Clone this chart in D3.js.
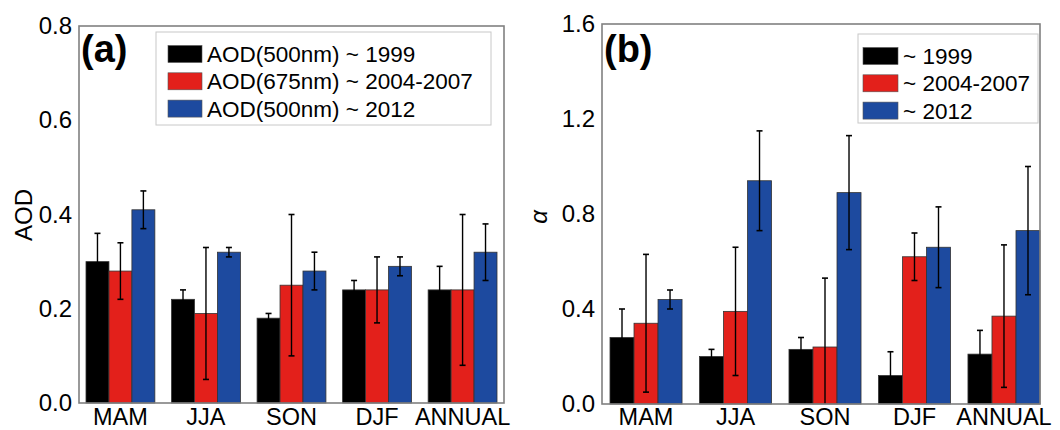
<!DOCTYPE html>
<html>
<head>
<meta charset="utf-8">
<script src="https://cdn.jsdelivr.net/npm/d3@7"></script>
<style>
  body { margin: 0; background: #fff; }
  text { font-family: "Liberation Sans", Arial, sans-serif; fill: #000; }
</style>
</head>
<body>
<svg width="1060" height="430"></svg>
<script>
// categories and series
var seasons = ["MAM", "JJA", "SON", "DJF", "ANNUAL"];
var seriesA = ["AOD(500nm) ~ 1999", "AOD(675nm) ~ 2004-2007", "AOD(500nm) ~ 2012"];
var seriesB = ["~ 1999", "~ 2004-2007", "~ 2012"];
var colors = ["#000000", "#e3201b", "#1d4a9f"];

// panel (a) AOD: value and error (half width)
var aod1999 = [0.30, 0.22, 0.18, 0.24, 0.24];
var aod1999Err = [0.06, 0.02, 0.01, 0.02, 0.05];
var aod2004 = [0.28, 0.19, 0.25, 0.24, 0.24];
var aod2004Err = [0.06, 0.14, 0.15, 0.07, 0.16];
var aod2012 = [0.41, 0.32, 0.28, 0.29, 0.32];
var aod2012Err = [0.04, 0.01, 0.04, 0.02, 0.06];

// panel (b) alpha
var alp1999 = [0.28, 0.20, 0.23, 0.12, 0.21];
var alp1999Err = [0.12, 0.03, 0.05, 0.10, 0.10];
var alp2004 = [0.34, 0.39, 0.24, 0.62, 0.37];
var alp2004Err = [0.29, 0.27, 0.29, 0.10, 0.30];
var alp2012 = [0.44, 0.94, 0.89, 0.66, 0.73];
var alp2012Err = [0.04, 0.21, 0.24, 0.17, 0.27];

var ticksA = [0.0, 0.2, 0.4, 0.6, 0.8];
var ticksB = [0.0, 0.4, 0.8, 1.2, 1.6];

var svg = d3.select("svg");

function panel(o) {
  var g = svg.append("g");

  var y = d3.scaleLinear().domain([0, o.max]).range([o.bottom, o.top]);
  var x0 = d3.scaleBand().domain(seasons)
      .range([o.left + o.padL, o.right - o.padR])
      .paddingInner(0.195).paddingOuter(0);
  var x1 = d3.scaleBand().domain([0, 1, 2]).range([0, x0.bandwidth()]);

  var rows = seasons.map(function(s, i) {
    return { season: s, bars: o.vals.map(function(v, k) {
      return { k: k, v: v[i], e: o.errs[k][i] };
    }) };
  });

  var grp = g.selectAll(".grp").data(rows).enter().append("g")
      .attr("transform", function(d) { return "translate(" + x0(d.season) + ",0)"; });

  grp.selectAll("rect").data(function(d) { return d.bars; }).enter().append("rect")
      .attr("x", function(d) { return x1(d.k); })
      .attr("y", function(d) { return y(d.v); })
      .attr("width", x1.bandwidth())
      .attr("height", function(d) { return y(0) - y(d.v); })
      .attr("fill", function(d) { return colors[d.k]; })
      .attr("stroke", "#333")
      .attr("stroke-width", 0.8);

  // error bars
  var eb = grp.selectAll(".eb").data(function(d) { return d.bars; }).enter().append("g");
  eb.append("line")
      .attr("x1", function(d) { return x1(d.k) + x1.bandwidth() / 2; })
      .attr("x2", function(d) { return x1(d.k) + x1.bandwidth() / 2; })
      .attr("y1", function(d) { return y(Math.max(0, d.v - d.e)); })
      .attr("y2", function(d) { return y(d.v + d.e); })
      .attr("stroke", "#000").attr("stroke-width", 1.4);
  eb.append("line")
      .attr("x1", function(d) { return x1(d.k) + x1.bandwidth() / 2 - 3; })
      .attr("x2", function(d) { return x1(d.k) + x1.bandwidth() / 2 + 3; })
      .attr("y1", function(d) { return y(d.v + d.e); })
      .attr("y2", function(d) { return y(d.v + d.e); })
      .attr("stroke", "#000").attr("stroke-width", 1.6);
  eb.filter(function(d) { return d.v - d.e > 0; }).append("line")
      .attr("x1", function(d) { return x1(d.k) + x1.bandwidth() / 2 - 3; })
      .attr("x2", function(d) { return x1(d.k) + x1.bandwidth() / 2 + 3; })
      .attr("y1", function(d) { return y(d.v - d.e); })
      .attr("y2", function(d) { return y(d.v - d.e); })
      .attr("stroke", "#000").attr("stroke-width", 1.6);

  // frame
  g.append("rect")
      .attr("x", o.left).attr("y", o.top)
      .attr("width", o.right - o.left).attr("height", o.bottom - o.top)
      .attr("fill", "none").attr("stroke", "#808080").attr("stroke-width", 1.6);

  // y axis
  var ya = g.append("g").attr("transform", "translate(" + o.left + ",0)")
      .call(d3.axisLeft(y).tickValues(o.ticks).tickFormat(d3.format(".1f")).tickSize(0).tickPadding(7));
  ya.select(".domain").remove();
  ya.selectAll("text").style("font-size", "24px").attr("fill", "#000")
      .style("font-family", "'Liberation Sans', Arial, sans-serif");

  // x labels
  g.selectAll(".xl").data(seasons).enter().append("text")
      .attr("x", function(d) { return x0(d) + x0.bandwidth() / 2; })
      .attr("y", 425)
      .attr("text-anchor", "middle")
      .style("font-size", "23.5px")
      .text(function(d) { return d; });

  // y title
  g.append("text")
      .attr("transform", "translate(" + o.titleX + "," + o.titleY + ") rotate(-90)")
      .attr("text-anchor", "middle")
      .style("font-size", "24px")
      .style("font-style", o.italic ? "italic" : "normal")
      .text(o.title);

  // panel tag
  g.append("text")
      .attr("x", o.left + 2).attr("y", 62)
      .style("font-size", "38px").style("font-weight", "bold")
      .text(o.tag);

  // legend
  var lg = g.append("g");
  lg.append("rect")
      .attr("x", o.lx).attr("y", o.ly).attr("width", o.lw).attr("height", o.lh)
      .attr("fill", "#fff").attr("stroke", "#c8c8c8").attr("stroke-width", 1);
  var it = lg.selectAll(".it").data(o.names).enter().append("g")
      .attr("transform", function(d, i) { return "translate(" + o.sx + "," + (o.ly + 22 + i * 27.3) + ")"; });
  it.append("rect")
      .attr("x", 0).attr("y", -8.5).attr("width", o.sw).attr("height", 17)
      .attr("fill", function(d, i) { return colors[i]; })
      .attr("stroke", "#555").attr("stroke-width", 0.6);
  it.append("text")
      .attr("x", o.sw + 5).attr("y", 8)
      .style("font-size", "22.5px")
      .text(function(d) { return d; });
}

panel({
  left: 79, right: 504, top: 26, bottom: 403, padL: 7, padR: 7, max: 0.8,
  vals: [aod1999, aod2004, aod2012], errs: [aod1999Err, aod2004Err, aod2012Err],
  ticks: ticksA, title: "AOD", titleX: 32, titleY: 215, italic: false, tag: "(a)",
  names: seriesA, lx: 156, ly: 32, lw: 335, lh: 93, sx: 168, sw: 34
});

panel({
  left: 602, right: 1040, top: 24, bottom: 404, padL: 8, padR: 0, max: 1.6,
  vals: [alp1999, alp2004, alp2012], errs: [alp1999Err, alp2004Err, alp2012Err],
  ticks: ticksB, title: "α", titleX: 547, titleY: 217, italic: true, tag: "(b)",
  names: seriesB, lx: 858, ly: 34, lw: 180, lh: 89, sx: 863, sw: 35
});
</script>
</body>
</html>
